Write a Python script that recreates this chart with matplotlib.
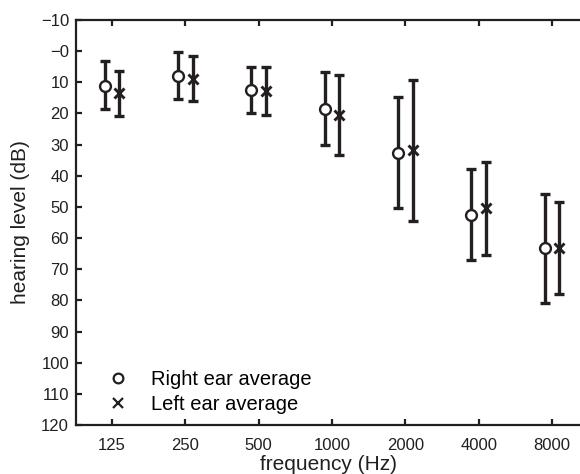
import numpy as np
import matplotlib
matplotlib.use('Agg')
import matplotlib.pyplot as plt
from matplotlib.lines import Line2D

plt.rcParams['font.family'] = ['Liberation Sans', 'DejaVu Sans']

# audiogram averages (dB HL)
freqs = [125, 250, 500, 1000, 2000, 4000, 8000]
freq_labels = ['125', '250', '500', '1000', '2000', '4000', '8000']

right_mean = [11.1, 7.9, 12.5, 18.5, 32.6, 52.6, 63.3]
right_low = [3.2, 0.2, 5.0, 6.7, 14.8, 37.9, 46.0]
right_high = [18.7, 15.5, 20.0, 30.2, 50.5, 67.0, 80.7]

left_mean = [13.5, 8.9, 12.8, 20.4, 31.7, 50.5, 63.1]
left_low = [6.4, 1.5, 5.0, 7.6, 9.4, 35.5, 48.3]
left_high = [20.9, 16.1, 20.6, 33.2, 54.5, 65.5, 77.8]

y_ticks = [-10, 0, 10, 20, 30, 40, 50, 60, 70, 80, 90, 100, 110, 120]
y_tick_labels = ['\u221210', '\u22120', '10', '20', '30', '40', '50', '60',
                 '70', '80', '90', '100', '110', '120']

ink = '#231f20'

fig = plt.figure(figsize=(5.8, 4.74), dpi=100)
ax = fig.add_axes([76 / 580, 49 / 474, 504 / 580, 405 / 474])

f = np.array(freqs, dtype=float)
shift = 2 ** 0.1

def draw(xs, mean, low, high, marker, ms, mew):
    mean = np.array(mean)
    err = [mean - np.array(low), np.array(high) - mean]
    ax.errorbar(xs, mean, yerr=err, fmt='none', ecolor=ink, elinewidth=2.4,
                capsize=3.3, capthick=2.4, zorder=2)
    ax.plot(xs, mean, linestyle='none', marker=marker, markersize=ms,
            markerfacecolor='white', markeredgecolor=ink, markeredgewidth=mew,
            zorder=3)

draw(f / shift, right_mean, right_low, right_high, 'o', 7.8, 1.7)
draw(f * shift, left_mean, left_low, left_high, 'x', 6.8, 2.1)

ax.set_xscale('log', base=2)
ax.set_xlim(88.9, 10420)
ax.set_xticks(freqs)
ax.set_xticklabels(freq_labels)
ax.minorticks_off()
ax.set_ylim(120, -10)
ax.set_yticks(y_ticks)
ax.set_yticklabels(y_tick_labels)

for side in ['left', 'bottom', 'top']:
    ax.spines[side].set_linewidth(1.6)
    ax.spines[side].set_color(ink)
ax.spines['right'].set_visible(False)

ax.tick_params(axis='both', direction='in', length=4, width=1.6, color=ink,
               labelsize=12, labelcolor=ink, pad=5)
ax.tick_params(axis='x', top=True, pad=9)

ax.set_xlabel('frequency (Hz)', fontsize=15, color=ink, labelpad=2)
ax.set_ylabel('hearing level (dB)', fontsize=15, color=ink, labelpad=8)

handles = [
    Line2D([], [], linestyle='none', marker='o', markersize=7,
           markerfacecolor='white', markeredgecolor=ink, markeredgewidth=1.6),
    Line2D([], [], linestyle='none', marker='x', markersize=6.5,
           markeredgecolor=ink, markeredgewidth=1.6),
]
ax.legend(handles, ['Right ear average', 'Left ear average'],
          loc='lower left', bbox_to_anchor=(0.036, -0.002), frameon=False,
          fontsize=14.5, handlelength=1.2, handletextpad=1.0, labelspacing=0.3,
          borderaxespad=0.2)

plt.savefig('out.png', dpi=100)
